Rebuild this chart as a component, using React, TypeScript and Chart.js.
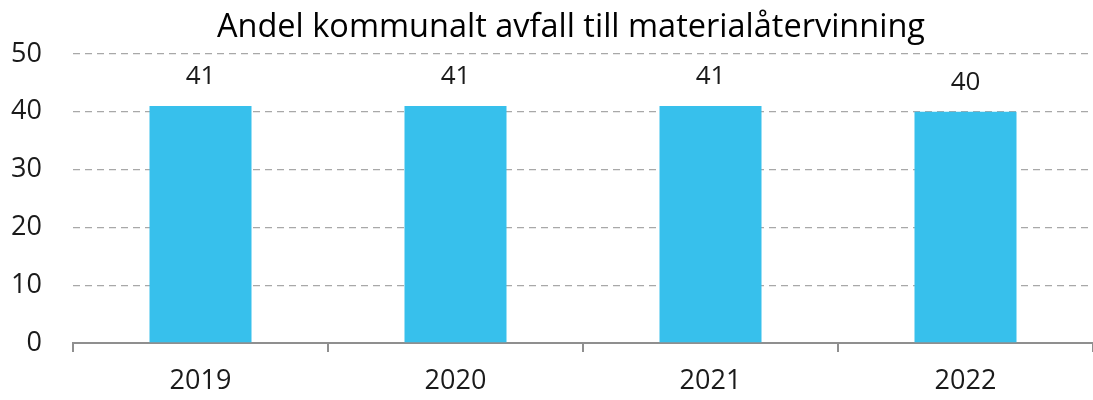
import React, { useEffect, useRef } from "react";
import { Chart, registerables } from "chart.js";

Chart.register(...registerables);

const TITLE = "Andel kommunalt avfall till materialåtervinning";
const categories = ["2019", "2020", "2021", "2022"];
const values = [41, 41, 41, 40];
const yTicks = [0, 10, 20, 30, 40, 50];

const FONT = "'Open Sans', 'DejaVu Sans', sans-serif";
const BAR_COLOR = "#37C0EC";
const GRID_COLOR = "#A8A8A8";
const AXIS_COLOR = "#8F8F8F";
const TEXT_COLOR = "#1A1A1A";

const titlePlugin = {
  id: "customTitle",
  afterDraw(chart: any) {
    const { ctx } = chart;
    ctx.save();
    ctx.font = `32.5px ${FONT}`;
    ctx.fillStyle = "#000000";
    ctx.textAlign = "center";
    ctx.textBaseline = "middle";
    ctx.fillText(TITLE, 571, 28);
    ctx.restore();
  },
};

const labelPlugin = {
  id: "barLabels",
  afterDatasetsDraw(chart: any) {
    const { ctx } = chart;
    const meta = chart.getDatasetMeta(0);
    ctx.save();
    ctx.font = `26px ${FONT}`;
    ctx.fillStyle = TEXT_COLOR;
    ctx.textAlign = "center";
    ctx.textBaseline = "middle";
    meta.data.forEach((bar: any, i: number) => {
      ctx.fillText(String(values[i]), bar.x, bar.y - 29);
    });
    ctx.restore();
  },
};

export default function App() {
  const ref = useRef<HTMLCanvasElement | null>(null);

  useEffect(() => {
    document.body.style.margin = "0";
    const canvas = ref.current;
    if (!canvas) return;
    const chart = new Chart(canvas, {
      type: "bar",
      data: {
        labels: categories,
        datasets: [
          {
            data: values,
            backgroundColor: BAR_COLOR,
            borderWidth: 0,
            barPercentage: 0.4,
            categoryPercentage: 1,
          },
        ],
      },
      options: {
        animation: false,
        responsive: false,
        maintainAspectRatio: false,
        devicePixelRatio: 1,
        layout: { padding: { top: 54, right: 0, left: 0, bottom: 0 } },
        plugins: {
          legend: { display: false },
          title: { display: false },
          tooltip: { enabled: false },
        },
        scales: {
          x: {
            offset: true,
            grid: {
              offset: true,
              drawOnChartArea: false,
              drawTicks: true,
              tickLength: 9,
              color: AXIS_COLOR,
              lineWidth: 2,
            },
            border: { display: true, color: AXIS_COLOR, width: 2 },
            ticks: {
              color: TEXT_COLOR,
              font: { family: FONT, size: 27 },
              padding: 13,
            },
            afterFit(scale: any) {
              scale.height = 57;
            },
          },
          y: {
            min: 0,
            max: 50,
            afterBuildTicks(scale: any) {
              scale.ticks = yTicks.map((v) => ({ value: v }));
            },
            grid: {
              drawTicks: false,
              color: (c: any) => (c.tick && c.tick.value === 0 ? "rgba(0,0,0,0)" : GRID_COLOR),
              lineWidth: 1.3,
            },
            border: { display: false, dash: [7, 5] },
            ticks: {
              color: TEXT_COLOR,
              font: { family: FONT, size: 27 },
              padding: 31,
            },
            afterFit(scale: any) {
              scale.width = 73;
            },
          },
        },
      },
      plugins: [titlePlugin, labelPlugin],
    });
    return () => chart.destroy();
  }, []);

  return <canvas ref={ref} width={1093} height={400} style={{ display: "block" }} />;
}
